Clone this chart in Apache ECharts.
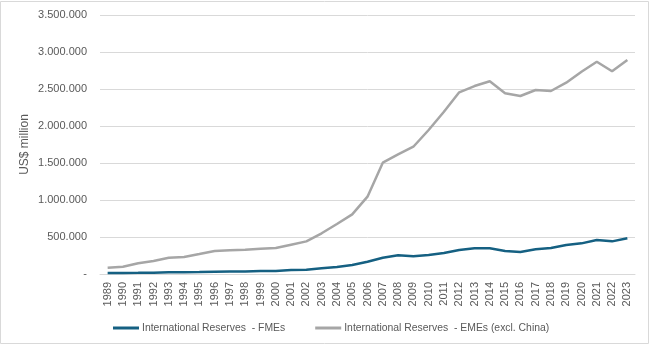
<!DOCTYPE html>
<html><head><meta charset="utf-8">
<script src="https://cdn.jsdelivr.net/npm/echarts@6/dist/echarts.min.js"></script>
<style>html,body{margin:0;padding:0;background:#fff}#c{width:650px;height:345px}</style>
</head><body><div id="c"></div>
<script>
const years = ['1989','1990','1991','1992','1993','1994','1995','1996','1997','1998','1999','2000','2001','2002','2003','2004','2005','2006','2007','2008','2009','2010','2011','2012','2013','2014','2015','2016','2017','2018','2019','2020','2021','2022','2023'];
const fmes = [14000,15000,16000,18000,23000,25000,27000,31000,34000,35000,40000,42000,54000,58000,77000,95000,122000,166000,220000,252000,239000,257000,284000,324000,347000,347000,311000,297000,334000,351000,392000,414000,459000,441000,482000];
const emes = [85000,99000,145000,176000,220000,230000,270000,311000,320000,328000,342000,351000,396000,441000,550000,676000,806000,1045000,1504000,1617000,1720000,1946000,2193000,2455000,2540000,2604000,2442000,2405000,2486000,2473000,2585000,2734000,2869000,2739000,2892000];
const seriesNames = ['International Reserves  - FMEs','International Reserves  - EMEs (excl. China)'];
const yTicks = {min:0, max:3500000, interval:500000};

const fmt = v => v === 0 ? '-' : String(v).replace(/\B(?=(\d{3})+(?!\d))/g, '.');
const font = 'Liberation Sans, Arial, sans-serif';
const chart = echarts.init(document.getElementById('c'));
chart.setOption({
  animation:false,
  graphic:[{type:'rect',shape:{x:0.5,y:1.5,width:648,height:342},style:{fill:'none',stroke:'#d9d9d9',lineWidth:1},silent:true}],
  grid:{left:100,right:15,top:15,bottom:71},
  legend:{left:108,top:318,itemWidth:26,itemHeight:3,itemGap:30,icon:'rect',
    textStyle:{color:'#595959',fontSize:10.4,fontFamily:font,padding:[0,0,0,-2]},
    data:seriesNames},
  xAxis:{type:'category',data:years,boundaryGap:true,
    axisLine:{show:true,lineStyle:{color:'#d9d9d9'}},axisTick:{show:false},
    axisLabel:{rotate:90,color:'#595959',fontSize:11,fontFamily:font,margin:8,interval:0}},
  yAxis:{type:'value',min:yTicks.min,max:yTicks.max,interval:yTicks.interval,
    name:'US$ million',nameLocation:'middle',nameGap:69,nameRotate:90,nameMoveOverlap:false,
    nameTextStyle:{color:'#595959',fontSize:12,fontFamily:font},
    axisLine:{show:false},axisTick:{show:false},
    splitLine:{lineStyle:{color:'#d9d9d9'}},
    axisLabel:{color:'#595959',fontSize:11,fontFamily:font,margin:13,formatter:fmt}},
  series:[
    {name:seriesNames[0],type:'line',data:fmes,symbol:'none',lineStyle:{width:2.5,color:'#156082'},itemStyle:{color:'#156082'}},
    {name:seriesNames[1],type:'line',data:emes,symbol:'none',lineStyle:{width:2.5,color:'#a6a6a6'},itemStyle:{color:'#a6a6a6'}}
  ]
});
</script></body></html>
